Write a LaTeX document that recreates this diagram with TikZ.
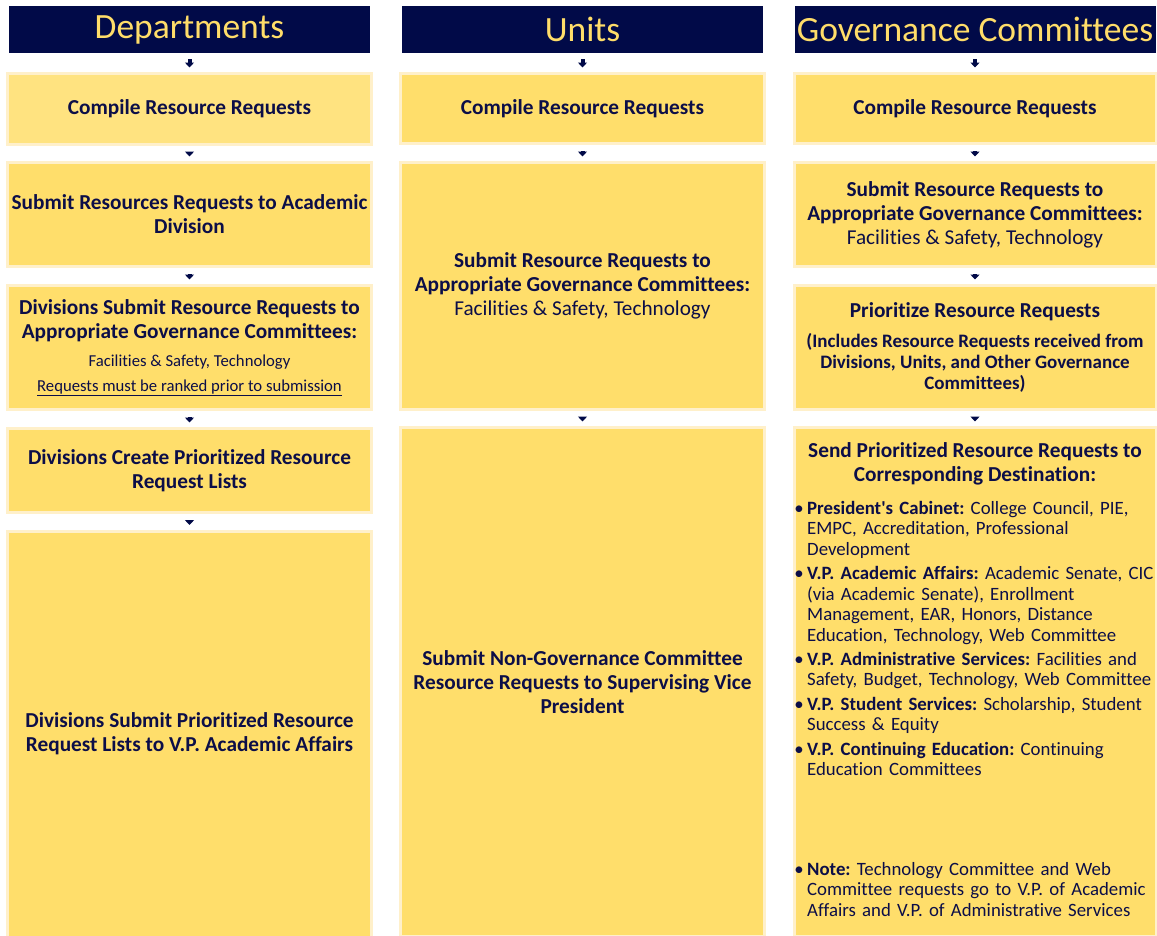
\documentclass[tikz,border=0pt]{standalone}
\usepackage{fontspec}
\setmainfont{Carlito}[Ligatures=NoCommon]
\usetikzlibrary{arrows.meta}
\definecolor{navy}{RGB}{1,10,72}
\definecolor{headyellow}{RGB}{255,221,105}
\definecolor{boxyellow}{RGB}{255,222,107}
\definecolor{boxlight}{RGB}{255,227,128}
\definecolor{boxedge}{RGB}{255,240,202}
\definecolor{textnavy}{RGB}{12,14,72}
\tikzstyle{head}=[rectangle,fill=navy,text=headyellow,minimum width=361pt,minimum height=47pt,inner sep=0pt,font=\fontsize{35.5}{40}\selectfont]
\tikzstyle{stepbox}=[rectangle,fill=boxyellow,draw=boxedge,line width=3pt,minimum width=364pt,inner sep=2pt,align=center,text=textnavy,font=\bfseries\fontsize{21.3}{24}\selectfont]
\tikzstyle{flow}=[-{Triangle[width=9pt,length=5pt]},line width=4pt,navy,shorten <=6pt,shorten >=4.5pt]
\tikzstyle{listtext}=[text width=350pt,align=left,inner sep=0pt,text=textnavy,font=\fontsize{18.8}{20.5}\selectfont]
\newcommand{\gbullet}{\leavevmode\llap{\textbullet\hspace{3.5pt}}}
\newcommand{\smallreg}{\mdseries\fontsize{21.2}{23.5}\selectfont}
\newcommand{\deptnote}{\mdseries\fontsize{16.7}{20}\selectfont}
\newcommand{\govnote}{\fontsize{19}{21}\selectfont}
\frenchspacing

\begin{document}
\begin{tikzpicture}[x=1pt,y=-1pt]
\useasboundingbox (0,0) rectangle (1157,935);
% headers
\node[head] (dh) at (189.5,29.5) {Departments};
\node[head] (uh) at (582.5,29.5) {Units};
\node[head] (gh) at (975,29.5) {Governance Committees};
% departments
\node[stepbox,fill=boxlight,minimum height=71pt] (d1) at (189.5,109) {Compile Resource Requests};
\node[stepbox,minimum height=104pt] (d2) at (189.5,214.5) {Submit Resources Requests to Academic\\Division};
\node[stepbox,minimum height=124pt] (d3) at (189.5,347.5) {Divisions Submit Resource Requests to\\Appropriate Governance Committees:\\[4pt]
{\deptnote Facilities \& Safety, Technology}\\[1pt]
{\deptnote\underline{Requests must be ranked prior to submission}}};
\node[stepbox,minimum height=84pt] (d4) at (189.5,470.5) {Divisions Create Prioritized Resource\\Request Lists};
\node[stepbox,minimum height=406pt] (d5) at (189.5,734) {Divisions Submit Prioritized Resource\\Request Lists to V.P. Academic Affairs};
% units
\node[stepbox,minimum height=70pt] (u1) at (582.5,108.5) {Compile Resource Requests};
\node[stepbox,minimum height=247pt] (u2) at (582.5,286) {Submit Resource Requests to\\Appropriate Governance Committees:\\{\smallreg Facilities \& Safety, Technology}};
\node[stepbox,minimum height=509pt] (u3) at (582.5,682) {Submit Non-Governance Committee\\Resource Requests to Supervising Vice\\President};
% governance committees
\node[stepbox,minimum height=70pt,minimum width=362pt] (g1) at (975,108.5) {Compile Resource Requests};
\node[stepbox,minimum height=104pt,minimum width=362pt] (g2) at (975,214.5) {Submit Resource Requests to\\Appropriate Governance Committees:\\{\smallreg Facilities \& Safety, Technology}};
\node[stepbox,minimum height=124pt,minimum width=362pt] (g3) at (975,347.5) {Prioritize Resource Requests\\[6pt]
{\govnote (Includes Resource Requests received from}\\[-3pt]
{\govnote Divisions, Units, and Other Governance}\\[-3pt]
{\govnote Committees)}};
\node[stepbox,minimum height=509pt,minimum width=362pt] (g4) at (975,682) {};
\node[stepbox,draw=none,fill=none,minimum width=0pt] (g4t) at (975,464) {Send Prioritized Resource Requests to\\Corresponding Destination:};
\node[listtext,anchor=north west] (g4l) at (807,501) {\setlength{\parskip}{3.8pt}%
\gbullet\textbf{President\textquotesingle s Cabinet:} College Council, PIE,\\EMPC, Accreditation, Professional\\Development\par
\gbullet\textbf{V.P. Academic Affairs:} Academic Senate, CIC\\(via Academic Senate), Enrollment\\Management, EAR, Honors, Distance\\Education, Technology, Web Committee\par
\gbullet\textbf{V.P. Administrative Services:} Facilities and\\Safety, Budget, Technology, Web Committee\par
\gbullet\textbf{V.P. Student Services:} Scholarship, Student\\Success \& Equity\par
\gbullet\textbf{V.P. Continuing Education:} Continuing\\Education Committees};
\node[listtext,anchor=north west] (g4n) at (807,862) {\gbullet\textbf{Note:} Technology Committee and Web\\Committee requests go to V.P. of Academic\\Affairs and V.P. of Administrative Services};
% arrows
\draw[flow] (dh) -- (d1);
\draw[flow] (d1) -- (d2);
\draw[flow] (d2) -- (d3);
\draw[flow] (d3) -- (d4);
\draw[flow] (d4) -- (d5);
\draw[flow] (uh) -- (u1);
\draw[flow] (u1) -- (u2);
\draw[flow] (u2) -- (u3);
\draw[flow] (gh) -- (g1);
\draw[flow] (g1) -- (g2);
\draw[flow] (g2) -- (g3);
\draw[flow] (g3) -- (g4);
\end{tikzpicture}
\end{document}
